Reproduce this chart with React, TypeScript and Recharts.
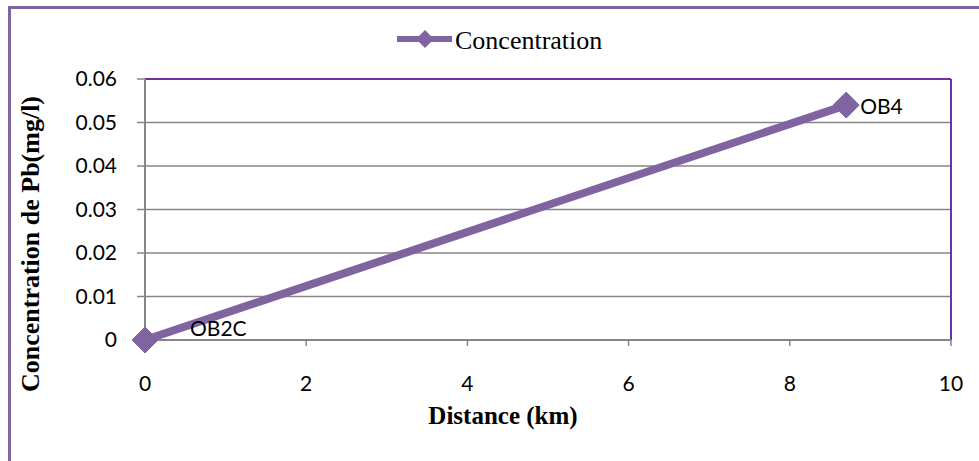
import { CartesianGrid, LabelList, Line, LineChart, ReferenceLine, XAxis, YAxis } from 'recharts';

const distances = [0, 8.7];
const concentrations = [0, 0.054];
const sites = ['OB2C', 'OB4'];
const xTicks = [0, 2, 4, 6, 8, 10];
const yTicks = [0, 0.01, 0.02, 0.03, 0.04, 0.05, 0.06];

const data = distances.map((d, i) => ({ distance: d, concentration: concentrations[i], site: sites[i] }));

const PURPLE = '#8064A2';
const FRAME = '#7030A0';
const GRAY = '#868686';
const tickFont = { fontFamily: 'Lato, "Open Sans", sans-serif', fontSize: 21, fill: '#000' };
const serif = '"Liberation Serif", serif';

// label offsets: the first point's label sits further right, clear of the axis
const labelOffset: Record<string, [number, number]> = { OB2C: [45, -13], OB4: [14, 0] };

const Diamond = ({ cx, cy }: any) => {
  if (cx == null || cy == null) return null;
  const r = 13;
  return (
    <polygon
      points={`${cx},${cy - r} ${cx + r},${cy} ${cx},${cy + r} ${cx - r},${cy}`}
      fill={PURPLE}
      stroke={PURPLE}
    />
  );
};

const SiteLabel = ({ x, y, value }: any) => {
  const [dx, dy] = labelOffset[value] ?? [14, 0];
  return (
    <text x={x + dx} y={y + dy} dominantBaseline="central" {...tickFont}>
      {value}
    </text>
  );
};

export default function App() {
  return (
    <div style={{ position: 'absolute', left: 0, top: 0, width: 979, height: 461, background: '#fff', overflow: 'hidden' }}>
      <div
        style={{
          position: 'absolute',
          left: 8,
          top: 6,
          width: 979,
          height: 461,
          borderLeft: `3px solid ${PURPLE}`,
          borderTop: `3px solid ${PURPLE}`,
        }}
      />
      <LineChart
        width={979}
        height={461}
        data={data}
        margin={{ top: 79, right: 28, bottom: 91, left: 85 }}
        style={{ position: 'absolute', left: 0, top: 0 }}
      >
        <CartesianGrid horizontal vertical={false} stroke={GRAY} strokeWidth={1.5} />
        <XAxis
          type="number"
          dataKey="distance"
          domain={[0, 10]}
          ticks={xTicks}
          height={30}
          axisLine={{ stroke: GRAY, strokeWidth: 2 }}
          tickLine={{ stroke: GRAY, strokeWidth: 1.5 }}
          tickSize={6}
          tick={{ ...tickFont, dy: 28 }}
        />
        <YAxis
          type="number"
          dataKey="concentration"
          domain={[0, 0.06]}
          ticks={yTicks}
          width={60}
          axisLine={{ stroke: GRAY, strokeWidth: 2 }}
          tickLine={{ stroke: GRAY, strokeWidth: 1.5 }}
          tickSize={8}
          tick={{ ...tickFont, dx: -18 }}
          tickFormatter={(v: number) => (v === 0 ? '0' : v.toFixed(2))}
        />
        <ReferenceLine y={0.06} stroke={FRAME} strokeWidth={2} />
        <ReferenceLine x={10} stroke={FRAME} strokeWidth={2} />
        <Line
          dataKey="concentration"
          stroke={PURPLE}
          strokeWidth={8}
          dot={<Diamond />}
          activeDot={false}
          isAnimationActive={false}
        >
          <LabelList dataKey="site" content={<SiteLabel />} />
        </Line>
        <g>
          <line x1={397} y1={39} x2={452} y2={39} stroke={PURPLE} strokeWidth={6} />
          <polygon points="425,30 434,39 425,48 416,39" fill={PURPLE} />
          <text x={455} y={40} dominantBaseline="central" fontFamily={serif} fontSize={26} fill="#000">
            Concentration
          </text>
        </g>
        <text
          x={503}
          y={415}
          textAnchor="middle"
          dominantBaseline="central"
          fontFamily={serif}
          fontWeight="bold"
          fontSize={25}
        >
          Distance (km)
        </text>
        <text
          x={30}
          y={244}
          transform="rotate(-90 30 244)"
          textAnchor="middle"
          dominantBaseline="central"
          fontFamily={serif}
          fontWeight="bold"
          fontSize={26}
        >
          Concentration de Pb(mg/l)
        </text>
      </LineChart>
    </div>
  );
}
